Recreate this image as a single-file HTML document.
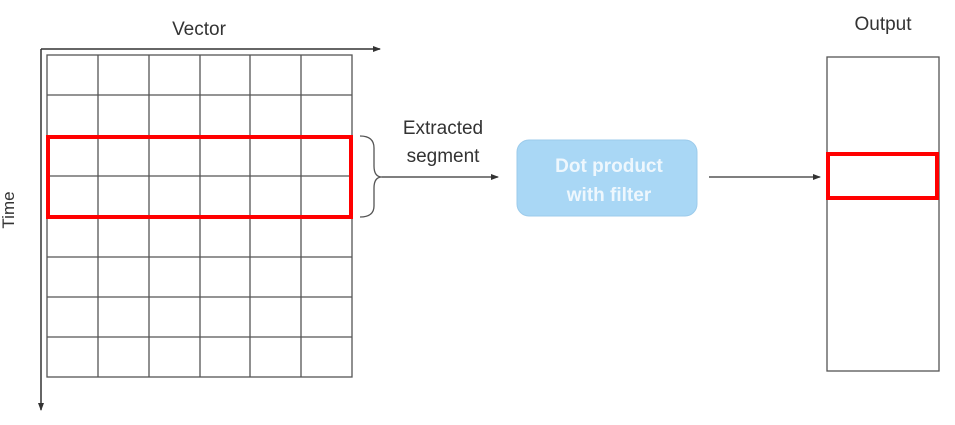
<!DOCTYPE html>
<html><head><style>body{margin:0;background:#fff}svg{display:block}</style></head><body>
<svg width="955" height="425" viewBox="0 0 955 425" xmlns="http://www.w3.org/2000/svg" font-family="Liberation Sans, sans-serif">
<defs><marker id="a" markerWidth="8" markerHeight="8" refX="7" refY="4" orient="auto" markerUnits="userSpaceOnUse"><path d="M0,1 L8,4 L0,7 z" fill="#333"/></marker></defs>
<text x="199" y="35" font-size="19" fill="#333" text-anchor="middle">Vector</text>
<text x="14" y="210" font-size="17" fill="#333" text-anchor="middle" transform="rotate(-90 14 210)">Time</text>
<line x1="41" y1="49" x2="380" y2="49" stroke="#333" stroke-width="1.5" marker-end="url(#a)"/>
<line x1="41" y1="49" x2="41" y2="410" stroke="#333" stroke-width="1.5" marker-end="url(#a)"/>
<g stroke="#555" stroke-width="1.3" fill="none">
<rect x="47" y="55" width="305" height="322"/>
<line x1="98" y1="55" x2="98" y2="377"/><line x1="149" y1="55" x2="149" y2="377"/><line x1="200" y1="55" x2="200" y2="377"/><line x1="250" y1="55" x2="250" y2="377"/><line x1="301" y1="55" x2="301" y2="377"/>
<line x1="47" y1="95" x2="352" y2="95"/><line x1="47" y1="136" x2="352" y2="136"/><line x1="47" y1="176" x2="352" y2="176"/><line x1="47" y1="216" x2="352" y2="216"/><line x1="47" y1="257" x2="352" y2="257"/><line x1="47" y1="297" x2="352" y2="297"/><line x1="47" y1="337" x2="352" y2="337"/>
</g>
<rect x="48" y="137" width="303" height="80" fill="none" stroke="#f00" stroke-width="4"/>
<path d="M360,136 Q374,136 374,148 L374,166 Q374,177 382,177 Q374,177 374,188 L374,206 Q374,217 360,217" fill="none" stroke="#555" stroke-width="1.3"/>
<line x1="382" y1="177" x2="498" y2="177" stroke="#333" stroke-width="1.3" marker-end="url(#a)"/>
<text x="443" y="134" font-size="19" fill="#333" text-anchor="middle">Extracted</text>
<text x="443" y="162" font-size="19" fill="#333" text-anchor="middle">segment</text>
<rect x="517" y="140" width="180" height="76" rx="12" fill="#a9d7f5" stroke="#9ccbeb"/>
<text x="609" y="172" font-size="19" font-weight="bold" fill="#eef7fd" text-anchor="middle">Dot product</text>
<text x="609" y="201" font-size="19" font-weight="bold" fill="#eef7fd" text-anchor="middle">with filter</text>
<line x1="709" y1="177" x2="820" y2="177" stroke="#333" stroke-width="1.3" marker-end="url(#a)"/>
<text x="883" y="30" font-size="19" fill="#333" text-anchor="middle">Output</text>
<rect x="827" y="57" width="112" height="314" fill="none" stroke="#555" stroke-width="1.3"/>
<rect x="828" y="154" width="109" height="44" fill="none" stroke="#f00" stroke-width="4"/>
</svg>
</body></html>
